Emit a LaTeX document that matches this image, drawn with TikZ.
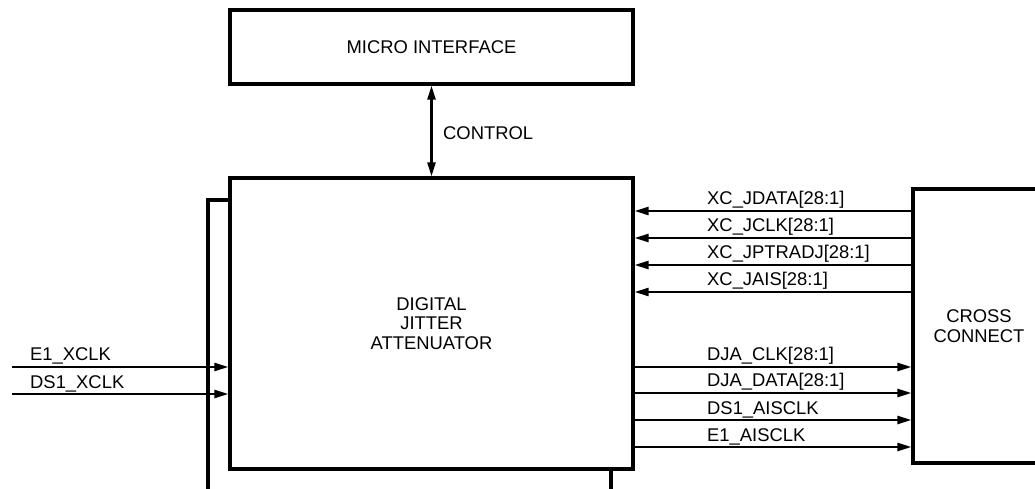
\documentclass[tikz,border=0pt]{standalone}
\usepackage{fontspec}
\setmainfont{Liberation Sans}
\usetikzlibrary{arrows.meta}
\begin{document}
\begin{tikzpicture}[x=1bp,y=-1bp,
  txt/.style={font=\fontsize{18.4bp}{19.5bp}\selectfont},
  box/.style={draw,line width=3.2bp,inner sep=0,align=center,txt},
  wire/.style={line width=3.2bp},
  sig/.style={line width=2.3bp,-{Triangle[length=14bp,width=8bp]}},
  bisig/.style={line width=2.3bp,{Triangle[length=14bp,width=8bp]}-{Triangle[length=14bp,width=8bp]}},
  lbl/.style={inner sep=0,anchor=base west,txt}]
\useasboundingbox (0,0) rectangle (1035,489);
\clip (0,0) rectangle (1035,489);

\node[box,minimum width=403bp,minimum height=74bp] (micro) at (431.5,47) {MICRO INTERFACE};
\node[box,minimum width=403bp,minimum height=291bp] (dja) at (431.5,323.5) {DIGITAL\\JITTER\\ATTENUATOR};
\node[box,minimum width=132bp,minimum height=274bp] (cross) at (979,326) {CROSS\\CONNECT};

% control
\draw[bisig] (micro.south) -- (dja.north);
\node[lbl] (ctl) at (443,140) {CONTROL};

% left bracket and bottom stub
\coordinate (bt) at (208,200);
\coordinate (bb) at (208,492);
\draw[wire] (bt -| dja.west) -- (bt) -- (bb);
\coordinate (sb) at (611,492);
\draw[wire] (sb |- dja.south) -- (sb);

% left inputs
\coordinate (in1) at (12,367);
\coordinate (in2) at (12,394);
\draw[sig] (in1) -- (in1 -| dja.west);
\draw[sig] (in2) -- (in2 -| dja.west);
\node[lbl] (le1) at (30,361) {E1\_XCLK};
\node[lbl] (ld1) at (30,388) {DS1\_XCLK};

% inputs from cross connect
\draw[sig] (cross.west |- 0,211) -- (dja.east |- 0,211);
\draw[sig] (cross.west |- 0,238) -- (dja.east |- 0,238);
\draw[sig] (cross.west |- 0,265) -- (dja.east |- 0,265);
\draw[sig] (cross.west |- 0,292) -- (dja.east |- 0,292);
\node[lbl] (x1) at (707,205) {XC\_JDATA[28:1]};
\node[lbl] (x2) at (707,232) {XC\_JCLK[28:1]};
\node[lbl] (x3) at (707,259) {XC\_JPTRADJ[28:1]};
\node[lbl] (x4) at (707,286) {XC\_JAIS[28:1]};

% outputs to cross connect
\draw[sig] (dja.east |- 0,367) -- (cross.west |- 0,367);
\draw[sig] (dja.east |- 0,393) -- (cross.west |- 0,393);
\draw[sig] (dja.east |- 0,420) -- (cross.west |- 0,420);
\draw[sig] (dja.east |- 0,447) -- (cross.west |- 0,447);
\node[lbl] (o1) at (707,361) {DJA\_CLK[28:1]};
\node[lbl] (o2) at (707,387) {DJA\_DATA[28:1]};
\node[lbl] (o3) at (707,414) {DS1\_AISCLK};
\node[lbl] (o4) at (707,441) {E1\_AISCLK};
\end{tikzpicture}
\end{document}
